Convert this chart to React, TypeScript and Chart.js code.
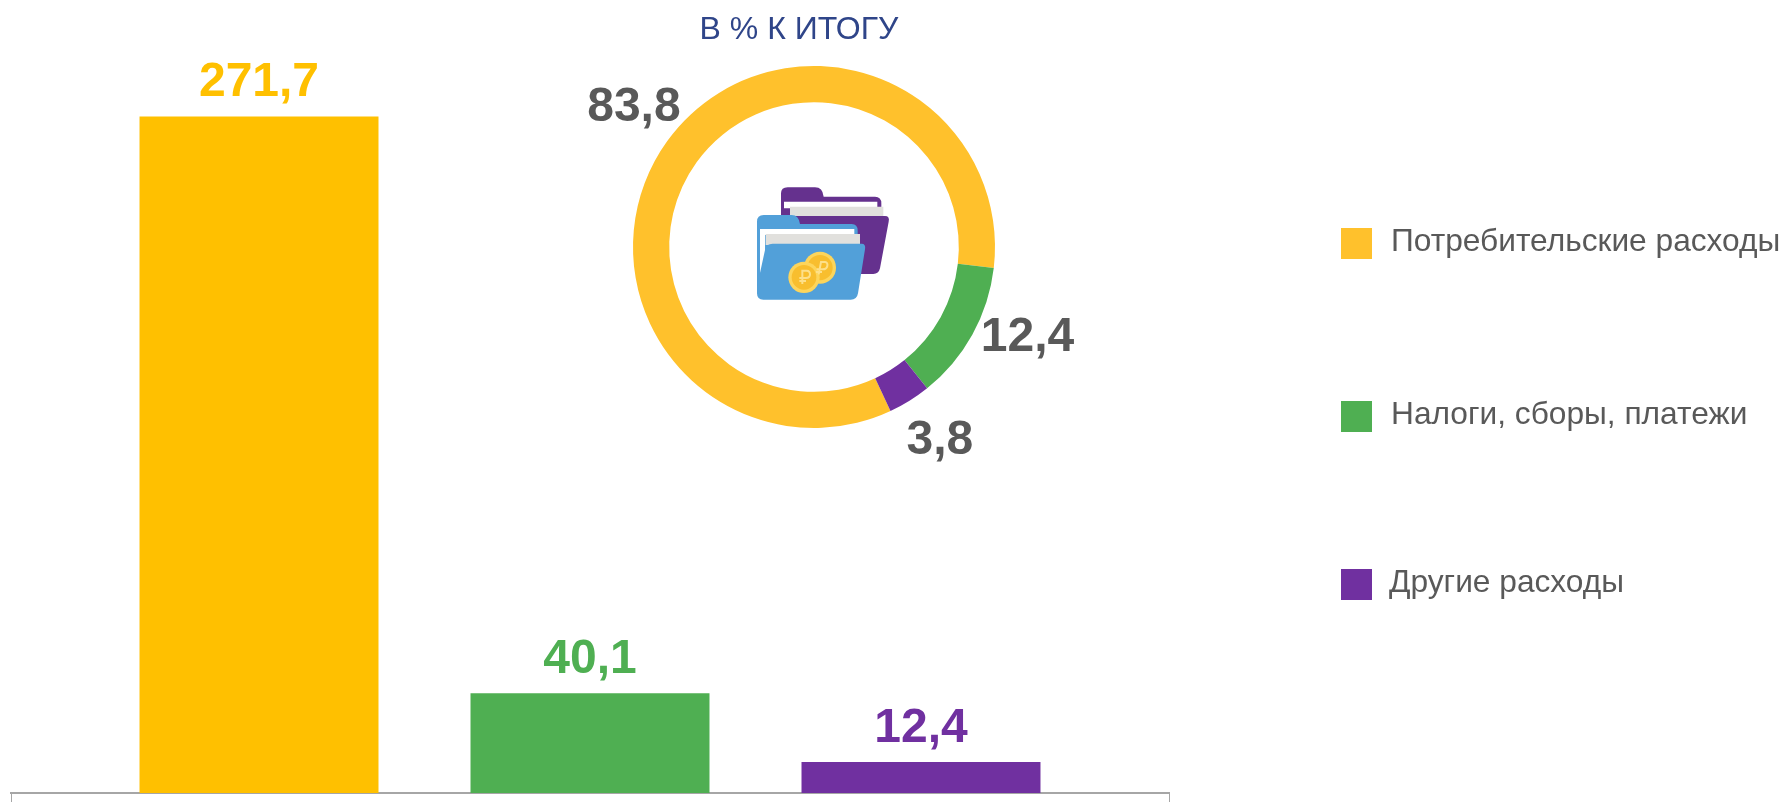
import React, { useEffect, useRef } from "react";
import { Chart, registerables } from "chart.js";

Chart.register(...registerables);

const categories = ["Потребительские расходы", "Налоги, сборы, платежи", "Другие расходы"];
const barValues = [271.7, 40.1, 12.4];
const shareValues = [83.8, 12.4, 3.8];
const barColors = ["#FFC000", "#4FAF52", "#7030A0"];
const donutColors = ["#FFC12C", "#4FAF52", "#7030A0"];
const donutLabelOffsets = [
  { dx: -48, dy: -44 },
  { dx: 71, dy: 12 },
  { dx: 40, dy: 55 },
];
const legendTops = [228, 401, 569];
const legendTextLeft = [1391, 1391, 1389];
const fontFamily = '"Liberation Sans", Arial, sans-serif';
const fmt = (v: number) => v.toFixed(1).replace(".", ",");

const barLabels = {
  id: "barLabels",
  afterDatasetsDraw(chart: any) {
    const { ctx } = chart;
    chart.data.datasets.forEach((ds: any, i: number) => {
      const el = chart.getDatasetMeta(i).data[0];
      ctx.save();
      ctx.font = `bold 48px ${fontFamily}`;
      ctx.fillStyle = ds.backgroundColor;
      ctx.textAlign = "center";
      ctx.textBaseline = "alphabetic";
      ctx.fillText(fmt(ds.data[0]), el.x, el.y - 20);
      ctx.restore();
    });
  },
};

const donutLabels = {
  id: "donutLabels",
  afterDatasetsDraw(chart: any) {
    const { ctx } = chart;
    const ds = chart.data.datasets[0];
    chart.getDatasetMeta(0).data.forEach((arc: any, i: number) => {
      const p = arc.tooltipPosition();
      ctx.save();
      ctx.font = `bold 48px ${fontFamily}`;
      ctx.fillStyle = "#595959";
      ctx.textAlign = "center";
      ctx.textBaseline = "middle";
      ctx.fillText(fmt(ds.data[i]), p.x + donutLabelOffsets[i].dx, p.y + donutLabelOffsets[i].dy);
      ctx.restore();
    });
  },
};

function FolderIcon() {
  return (
    <svg
      viewBox="0 0 600 480"
      style={{ position: "absolute", left: 720, top: 160, width: 200, height: 160 }}
    >
      <path d="M183 170 V100 Q183 82 203 82 H285 Q308 82 311 110 H465 Q484 110 484 130 V168 H495 Q510 168 506 185 L480 325 Q476 342 460 342 H300 Z" fill="#65318E" />
      <path d="M192 125 H472 V145 H192 Z" fill="#FFFFFF" />
      <path d="M210 140 H490 V168 H210 Z" fill="#E1E0DD" />
      <path d="M111 400 V185 Q111 165 131 165 H215 Q236 165 240 192 H395 Q413 192 413 212 V255 H300 L130 400 Z" fill="#52A0D9" />
      <path d="M120 207 H403 V225 H120 Z" fill="#FFFFFF" />
      <path d="M120 207 H135 V300 L120 350 Z" fill="#FFFFFF" />
      <path d="M137 222 H420 V255 H137 Z" fill="#E1E0DD" />
      <path d="M135 270 Q138 251 158 251 H425 Q438 251 435 268 L414 400 Q411 419 392 419 H130 Q111 419 111 400 V380 Z" fill="#52A0D9" />
      <circle cx="300" cy="323" r="48" fill="#FDD55B" />
      <circle cx="300" cy="323" r="38" fill="#F8BE2E" />
      <circle cx="252" cy="352" r="47" fill="#FDD55B" />
      <circle cx="252" cy="352" r="37" fill="#F8BE2E" />
      <path d="M247 372 V332 H260 Q270 332 270 343 Q270 354 258 354 H238 M238 363 H258" stroke="#FDE08A" strokeWidth="6" fill="none" />
      <path d="M296 343 L303 306 H315 Q324 307 322 318 Q320 328 308 328 H290 M288 336 H306" stroke="#FDE08A" strokeWidth="6" fill="none" />
    </svg>
  );
}

export default function App() {
  const barRef = useRef<HTMLCanvasElement>(null);
  const donutRef = useRef<HTMLCanvasElement>(null);

  useEffect(() => {
    document.body.style.margin = "0";
    const bar = new Chart(barRef.current!, {
      type: "bar",
      data: {
        labels: ["Расходы"],
        datasets: categories.map((label, i) => ({
          label,
          data: [barValues[i]],
          backgroundColor: barColors[i],
          categoryPercentage: 0.8575,
          barPercentage: 0.722,
        })),
      },
      options: {
        animation: false,
        responsive: false,
        layout: { padding: { left: 11, right: 614, top: 46, bottom: 0 } },
        plugins: { legend: { display: false }, tooltip: { enabled: false } },
        scales: {
          x: {
            ticks: { display: false },
            border: { display: true, color: "#A6A6A6", width: 2 },
            grid: { display: true, drawOnChartArea: false, drawTicks: true, tickLength: 9, color: "#A6A6A6", tickWidth: 1 },
          },
          y: { display: false, min: 0, max: 300 },
        },
      },
      plugins: [barLabels],
    } as any);

    const donut = new Chart(donutRef.current!, {
      type: "doughnut",
      data: {
        labels: categories,
        datasets: [{ data: shareValues, backgroundColor: donutColors, borderWidth: 0 }],
      },
      options: {
        animation: false,
        responsive: false,
        cutout: "80%",
        rotation: 155,
        layout: { padding: 119 },
        plugins: { legend: { display: false }, tooltip: { enabled: false } },
      },
      plugins: [donutLabels],
    } as any);

    return () => {
      bar.destroy();
      donut.destroy();
    };
  }, []);

  return (
    <div style={{ position: "absolute", left: 0, top: 0, width: 1783, height: 802, overflow: "hidden", background: "#fff", fontFamily }}>
      <canvas ref={barRef} width={1783} height={802} style={{ position: "absolute", left: 0, top: 0 }} />
      <FolderIcon />
      <div style={{ position: "absolute", left: 0, top: 0, width: 1598, textAlign: "center", lineHeight: "56px", fontSize: 32, color: "#2F4589" }}>
        В % К ИТОГУ
      </div>
      {categories.map((c, i) => (
        <React.Fragment key={c}>
          <div style={{ position: "absolute", left: 1341, top: legendTops[i], width: 31, height: 31, background: donutColors[i] }} />
          <div style={{ position: "absolute", left: legendTextLeft[i], top: legendTops[i] - 8, lineHeight: "40px", fontSize: 31.7, color: "#595959", whiteSpace: "nowrap" }}>
            {c}
          </div>
        </React.Fragment>
      ))}
      <canvas ref={donutRef} width={600} height={600} style={{ position: "absolute", left: 514, top: -53 }} />
    </div>
  );
}
